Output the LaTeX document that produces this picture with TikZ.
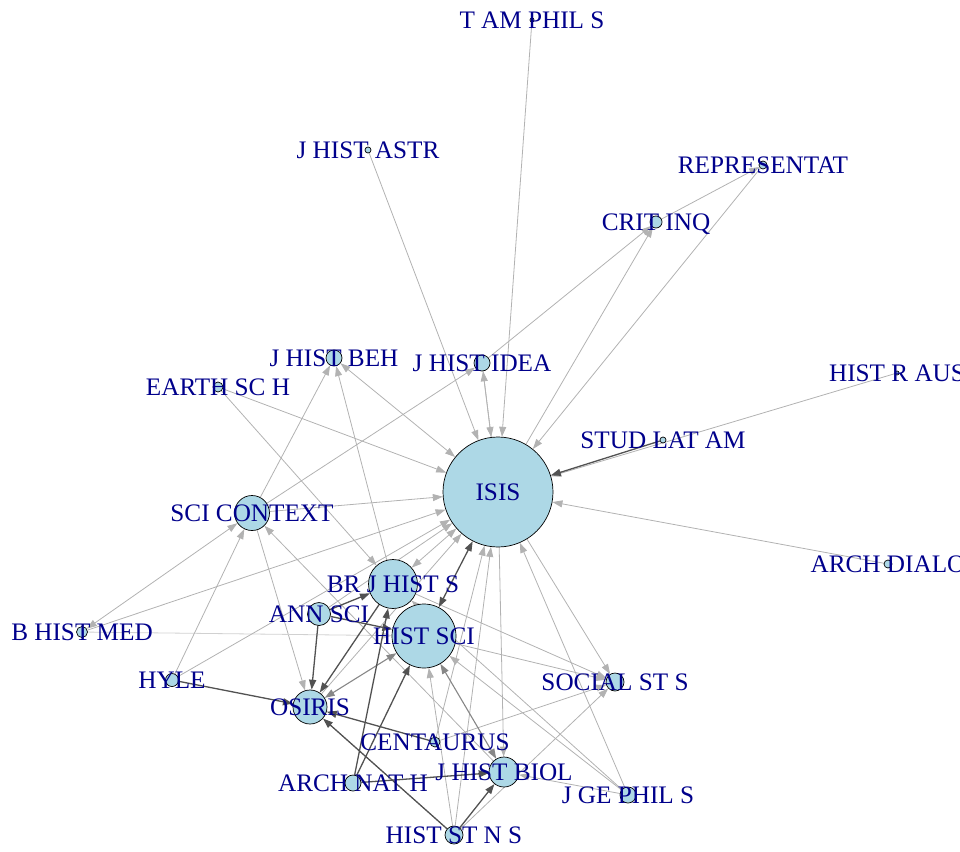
\documentclass[tikz,border=0pt]{standalone}
\usepackage{fontspec}
\setmainfont{Liberation Serif}
\usetikzlibrary{arrows.meta}
\definecolor{vfill}{HTML}{ADD8E6}
\definecolor{vtext}{HTML}{00008B}
\pgfdeclarelayer{edges}
\pgfdeclarelayer{labels}
\pgfsetlayers{edges,main,labels}
\tikzset{
	vertex/.style={circle, draw=black, fill=vfill, line width=0.7pt, inner sep=0pt},
	vname/.style={text=vtext, inner sep=0pt, text height=16.7pt, text depth=0pt, font=\fontsize{25.2}{28}\selectfont},
	lite/.style={draw=black!30, line width=0.8pt, ->},
	mid/.style={draw=black!47, line width=1.1pt, <->},
	dark/.style={draw=black!68, line width=1.3pt, ->},
}
\begin{document}
\begin{tikzpicture}[x=1pt, y=-1pt, >={Triangle[length=10pt, width=7pt]}]
	\useasboundingbox (0,0) rectangle (960,851);
	\node[vertex, minimum size=110pt] (isis) at (498,492) {};
	\node[vertex, minimum size=64pt] (histsci) at (424,636) {};
	\node[vertex, minimum size=49pt] (brjhs) at (393,584) {};
	\node[vertex, minimum size=35pt] (scicon) at (252,513) {};
	\node[vertex, minimum size=34pt] (osiris) at (310,707) {};
	\node[vertex, minimum size=30pt] (jhbiol) at (504,772) {};
	\node[vertex, minimum size=23pt] (annsci) at (319,614) {};
	\node[vertex, minimum size=18pt] (social) at (615,682) {};
	\node[vertex, minimum size=16pt] (jhbeh) at (334,358) {};
	\node[vertex, minimum size=16pt] (jhidea) at (482,363) {};
	\node[vertex, minimum size=12pt] (critinq) at (656,222) {};
	\node[vertex, minimum size=10pt] (centaurus) at (435,742) {};
	\node[vertex, minimum size=16pt] (archnath) at (353,783) {};
	\node[vertex, minimum size=18pt] (histstns) at (454,835) {};
	\node[vertex, minimum size=16pt] (jgephil) at (628,795) {};
	\node[vertex, minimum size=13pt] (hyle) at (172,680) {};
	\node[vertex, minimum size=11pt] (bhistmed) at (82,632) {};
	\node[vertex, minimum size=10pt] (earth) at (218,387) {};
	\node[vertex, minimum size=6pt] (jhastr) at (368,150) {};
	\node[vertex, minimum size=4pt] (tamphil) at (532,20) {};
	\node[vertex, minimum size=8pt] (repres) at (763,165) {};
	\node[vertex, minimum size=4pt] (histraus) at (897,373) {};
	\node[vertex, minimum size=6pt] (studlat) at (663,440) {};
	\node[vertex, minimum size=8pt] (archdialo) at (888,564) {};
	\begin{pgfonlayer}{edges}
		\draw[lite] (tamphil) -- (isis);
		\draw[lite] (jhastr) -- (isis);
		\draw[lite] (jhidea) -- (isis);
		\draw[lite] (isis) -- (jhidea);
		\draw[lite, <->] (jhbeh) -- (isis);
		\draw[lite] (earth) -- (isis);
		\draw[lite] (earth) -- (brjhs);
		\draw[lite] (scicon) -- (isis);
		\draw[lite] (scicon) -- (jhbeh);
		\draw[lite] (scicon) -- (jhidea);
		\draw[lite] (jhidea) -- (critinq);
		\draw[lite] (scicon) -- (osiris);
		\draw[lite] (isis) -- (critinq);
		\draw[lite] (repres) -- (isis);
		\draw[lite] (critinq) -- (repres);
		\draw[lite] (histraus) -- (isis);
		\draw[lite] (archdialo) -- (isis);
		\draw[lite] (isis) -- (social);
		\draw[lite] (jgephil) -- (isis);
		\draw[lite] (bhistmed) -- (isis);
		\draw[lite, <->] (scicon) -- (bhistmed);
		\draw[lite, draw=black!18] (bhistmed) -- (histsci);
		\draw[lite] (hyle) -- (scicon);
		\draw[lite] (hyle) -- (isis);
		\draw[lite] (brjhs) -- (jhbeh);
		\draw[lite, <->] (brjhs) -- (isis);
		\draw[lite] (histstns) -- (isis);
		\draw[lite] (centaurus) -- (isis);
		\draw[lite] (histstns) -- (histsci);
		\draw[lite] (centaurus) -- (social);
		\draw[lite] (histstns) -- (social);
		\draw[lite] (histsci) -- (social);
		\draw[lite] (brjhs) -- (social);
		\draw[lite] (jgephil) -- (histsci);
		\draw[lite] (jgephil) -- (brjhs);
		\draw[lite] (jgephil) -- (jhbiol);
		\draw[lite] (isis) -- (jhbiol);
		\draw[lite] (jhbiol) -- (scicon);
		\draw[lite] (osiris) -- (isis);
		\draw[lite] (annsci) -- (isis);
		\draw[mid] (osiris) -- (histsci);
		\draw[mid] (histsci) -- (jhbiol);
		\draw[dark] (studlat) -- (isis);
		\draw[dark, <->] (histsci) -- (isis);
		\draw[dark] (hyle) -- (osiris);
		\draw[dark] (annsci) -- (brjhs);
		\draw[dark] (annsci) -- (osiris);
		\draw[dark] (annsci) -- (histsci);
		\draw[dark] (brjhs) -- (osiris);
		\draw[dark] (archnath) -- (brjhs);
		\draw[dark] (archnath) -- (histsci);
		\draw[dark] (archnath) -- (jhbiol);
		\draw[dark] (histstns) -- (osiris);
		\draw[dark] (histstns) -- (jhbiol);
		\draw[dark] (centaurus) -- (osiris);
	\end{pgfonlayer}
	\begin{pgfonlayer}{labels}
		\node[vname] (isis-t) at (isis) {ISIS};
		\node[vname] (histsci-t) at (histsci) {HIST SCI};
		\node[vname] (brjhs-t) at (brjhs) {BR J HIST S};
		\node[vname] (scicon-t) at (scicon) {SCI CONTEXT};
		\node[vname] (osiris-t) at (osiris) {OSIRIS};
		\node[vname] (jhbiol-t) at (jhbiol) {J HIST BIOL};
		\node[vname] (annsci-t) at (annsci) {ANN SCI};
		\node[vname] (social-t) at (social) {SOCIAL ST S};
		\node[vname] (jhbeh-t) at (jhbeh) {J HIST BEH};
		\node[vname] (jhidea-t) at (jhidea) {J HIST IDEA};
		\node[vname] (critinq-t) at (critinq) {CRIT INQ};
		\node[vname] (centaurus-t) at (centaurus) {CENTAURUS};
		\node[vname] (archnath-t) at (archnath) {ARCH NAT H};
		\node[vname] (histstns-t) at (histstns) {HIST ST N S};
		\node[vname] (jgephil-t) at (jgephil) {J GE PHIL S};
		\node[vname] (hyle-t) at (hyle) {HYLE};
		\node[vname] (bhistmed-t) at (bhistmed) {B HIST MED};
		\node[vname] (earth-t) at (earth) {EARTH SC H};
		\node[vname] (jhastr-t) at (jhastr) {J HIST ASTR};
		\node[vname] (tamphil-t) at (tamphil) {T AM PHIL S};
		\node[vname] (repres-t) at (repres) {REPRESENTAT};
		\node[vname] (histraus-t) at (histraus) {HIST R AUS};
		\node[vname] (studlat-t) at (studlat) {STUD LAT AM};
		\node[vname] (archdialo-t) at (archdialo) {ARCH DIALO};
	\end{pgfonlayer}
\end{tikzpicture}
\end{document}
